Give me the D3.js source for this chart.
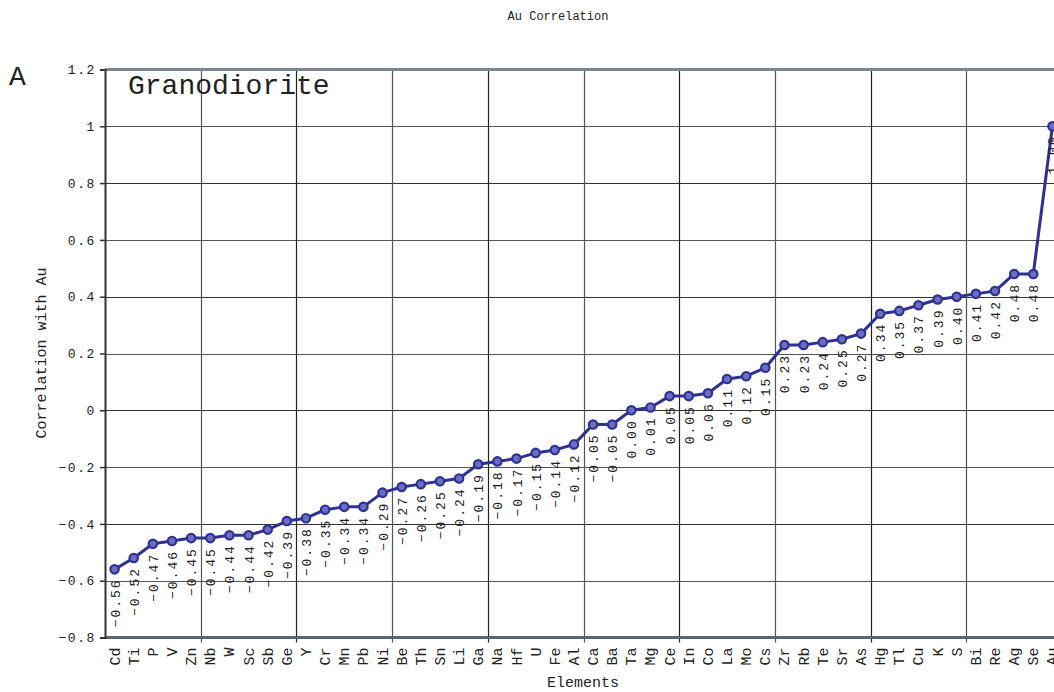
<!DOCTYPE html>
<html>
<head>
<meta charset="utf-8">
<script src="https://cdn.jsdelivr.net/npm/d3@7"></script>
<style>
  html, body { margin: 0; padding: 0; background: #fff; }
  svg { display: block; }
  text { font-family: "Courier New", "Liberation Mono", monospace; fill: #222; }
</style>
</head>
<body>
<svg id="chart" width="1054" height="692"></svg>
<script>
// Elements ordered by their correlation with Au
const elements = ["Cd","Ti","P","V","Zn","Nb","W","Sc","Sb","Ge",
  "Y","Cr","Mn","Pb","Ni","Be","Th","Sn","Li","Ga",
  "Na","Hf","U","Fe","Al","Ca","Ba","Ta","Mg","Ce",
  "In","Co","La","Mo","Cs","Zr","Rb","Te","Sr","As",
  "Hg","Tl","Cu","K","S","Bi","Re","Ag","Se","Au"];

const correlation = [-0.56,-0.52,-0.47,-0.46,-0.45,-0.45,-0.44,-0.44,-0.42,-0.39,
  -0.38,-0.35,-0.34,-0.34,-0.29,-0.27,-0.26,-0.25,-0.24,-0.19,
  -0.18,-0.17,-0.15,-0.14,-0.12,-0.05,-0.05,0.00,0.01,0.05,
  0.05,0.06,0.11,0.12,0.15,0.23,0.23,0.24,0.25,0.27,
  0.34,0.35,0.37,0.39,0.40,0.41,0.42,0.48,0.48,1.00];

const yTicks = [-0.8,-0.6,-0.4,-0.2,0,0.2,0.4,0.6,0.8,1,1.2];

const svg = d3.select("#chart");
const plotLeft = 105, plotTop = 69.5, plotBottom = 637.5, plotRight = 1054;
const bandW = 19.14;

const x = d3.scaleBand().domain(elements).range([plotLeft, plotLeft + bandW * elements.length]).padding(0);
const y = d3.scaleLinear().domain([-0.8, 1.2]).range([plotBottom, plotTop]);
const cx = d => x(d) + x.bandwidth() / 2;

const data = elements.map((e, i) => ({ el: e, v: correlation[i] }));

// horizontal grid
svg.append("g").selectAll("line")
  .data(yTicks.filter(t => t > -0.8 && t < 1.2))
  .join("line")
  .attr("x1", plotLeft).attr("x2", plotRight)
  .attr("y1", d => Math.round(y(d)) + 0.5).attr("y2", d => Math.round(y(d)) + 0.5)
  .attr("stroke", (d, i) => i % 2 ? "#333" : "#555").attr("stroke-width", 1.2);

// vertical grid every five elements
const vBoundaries = d3.range(5, elements.length, 5).map(i => x(elements[i]));
svg.append("g").selectAll("line")
  .data(vBoundaries)
  .join("line")
  .attr("x1", d => Math.round(d) + 0.5).attr("x2", d => Math.round(d) + 0.5)
  .attr("y1", plotTop).attr("y2", plotBottom + 5)
  .attr("stroke", (d, i) => i % 2 ? "#222" : "#555").attr("stroke-width", 1.2);

// frame: top and bottom borders
svg.append("line").attr("x1", plotLeft).attr("x2", plotRight).attr("y1", plotTop).attr("y2", plotTop)
  .attr("stroke", "#7d858e").attr("stroke-width", 3);
svg.append("line").attr("x1", plotLeft).attr("x2", plotRight).attr("y1", plotBottom).attr("y2", plotBottom)
  .attr("stroke", "#5e646b").attr("stroke-width", 3);

// left axis
const yAxis = d3.axisLeft(y).tickValues(yTicks).tickSize(5).tickPadding(4)
  .tickFormat(d => d === 0 ? "0" : d === 1 ? "1" : d3.format(".1f")(d).replace("-", "\u2212"));
const ya = svg.append("g").attr("transform", `translate(${plotLeft},0)`).call(yAxis);
ya.select(".domain").attr("stroke", "#333").attr("stroke-width", 2);
ya.selectAll(".tick line").attr("stroke", "#333").attr("stroke-width", 1.5);
ya.selectAll(".tick text").attr("font-size", 13).attr("letter-spacing", 1.6)
  .attr("font-family", "'Courier New','Liberation Mono',monospace").attr("fill", "#333");

// element labels along the bottom
svg.append("g").selectAll("text")
  .data(elements)
  .join("text")
  .attr("transform", d => `translate(${cx(d) + 5},${plotBottom + 10}) rotate(-90)`)
  .attr("text-anchor", "end")
  .attr("font-size", 15)
  .attr("fill", "#333")
  .text(d => d);

// correlation line
const line = d3.line().x(d => cx(d.el)).y(d => y(d.v));
svg.append("path").datum(data)
  .attr("d", line).attr("fill", "none")
  .attr("stroke", "#2e3192").attr("stroke-width", 3).attr("stroke-linejoin", "round");

svg.append("g").selectAll("circle")
  .data(data)
  .join("circle")
  .attr("cx", d => cx(d.el)).attr("cy", d => y(d.v)).attr("r", 4.2)
  .attr("fill", "#6a6fc4").attr("stroke", "#2e3192").attr("stroke-width", 2.2);

// value labels beneath each point
svg.append("g").selectAll("text")
  .data(data)
  .join("text")
  .attr("transform", d => `translate(${cx(d.el) + 5},${y(d.v) + 9}) rotate(-90)`)
  .attr("text-anchor", "end")
  .attr("font-size", 13)
  .attr("letter-spacing", 2)
  .attr("fill", "#333")
  .text(d => d3.format(".2f")(d.v).replace("-", "\u2212"));

// titles
svg.append("text").attr("x", 558).attr("y", 20).attr("text-anchor", "middle")
  .attr("font-size", 12).attr("fill", "#333").text("Au Correlation");
svg.append("text").attr("x", 583).attr("y", 687).attr("text-anchor", "middle")
  .attr("font-size", 15).attr("fill", "#333").text("Elements");
svg.append("text").attr("transform", "translate(46,353) rotate(-90)").attr("text-anchor", "middle")
  .attr("font-size", 15).attr("fill", "#333").text("Correlation with Au");
svg.append("text").attr("x", 9).attr("y", 85)
  .attr("font-size", 28).attr("fill", "#333").text("A");
svg.append("text").attr("x", 128).attr("y", 94)
  .attr("font-size", 28).attr("fill", "#333").text("Granodiorite");
</script>
</body>
</html>
